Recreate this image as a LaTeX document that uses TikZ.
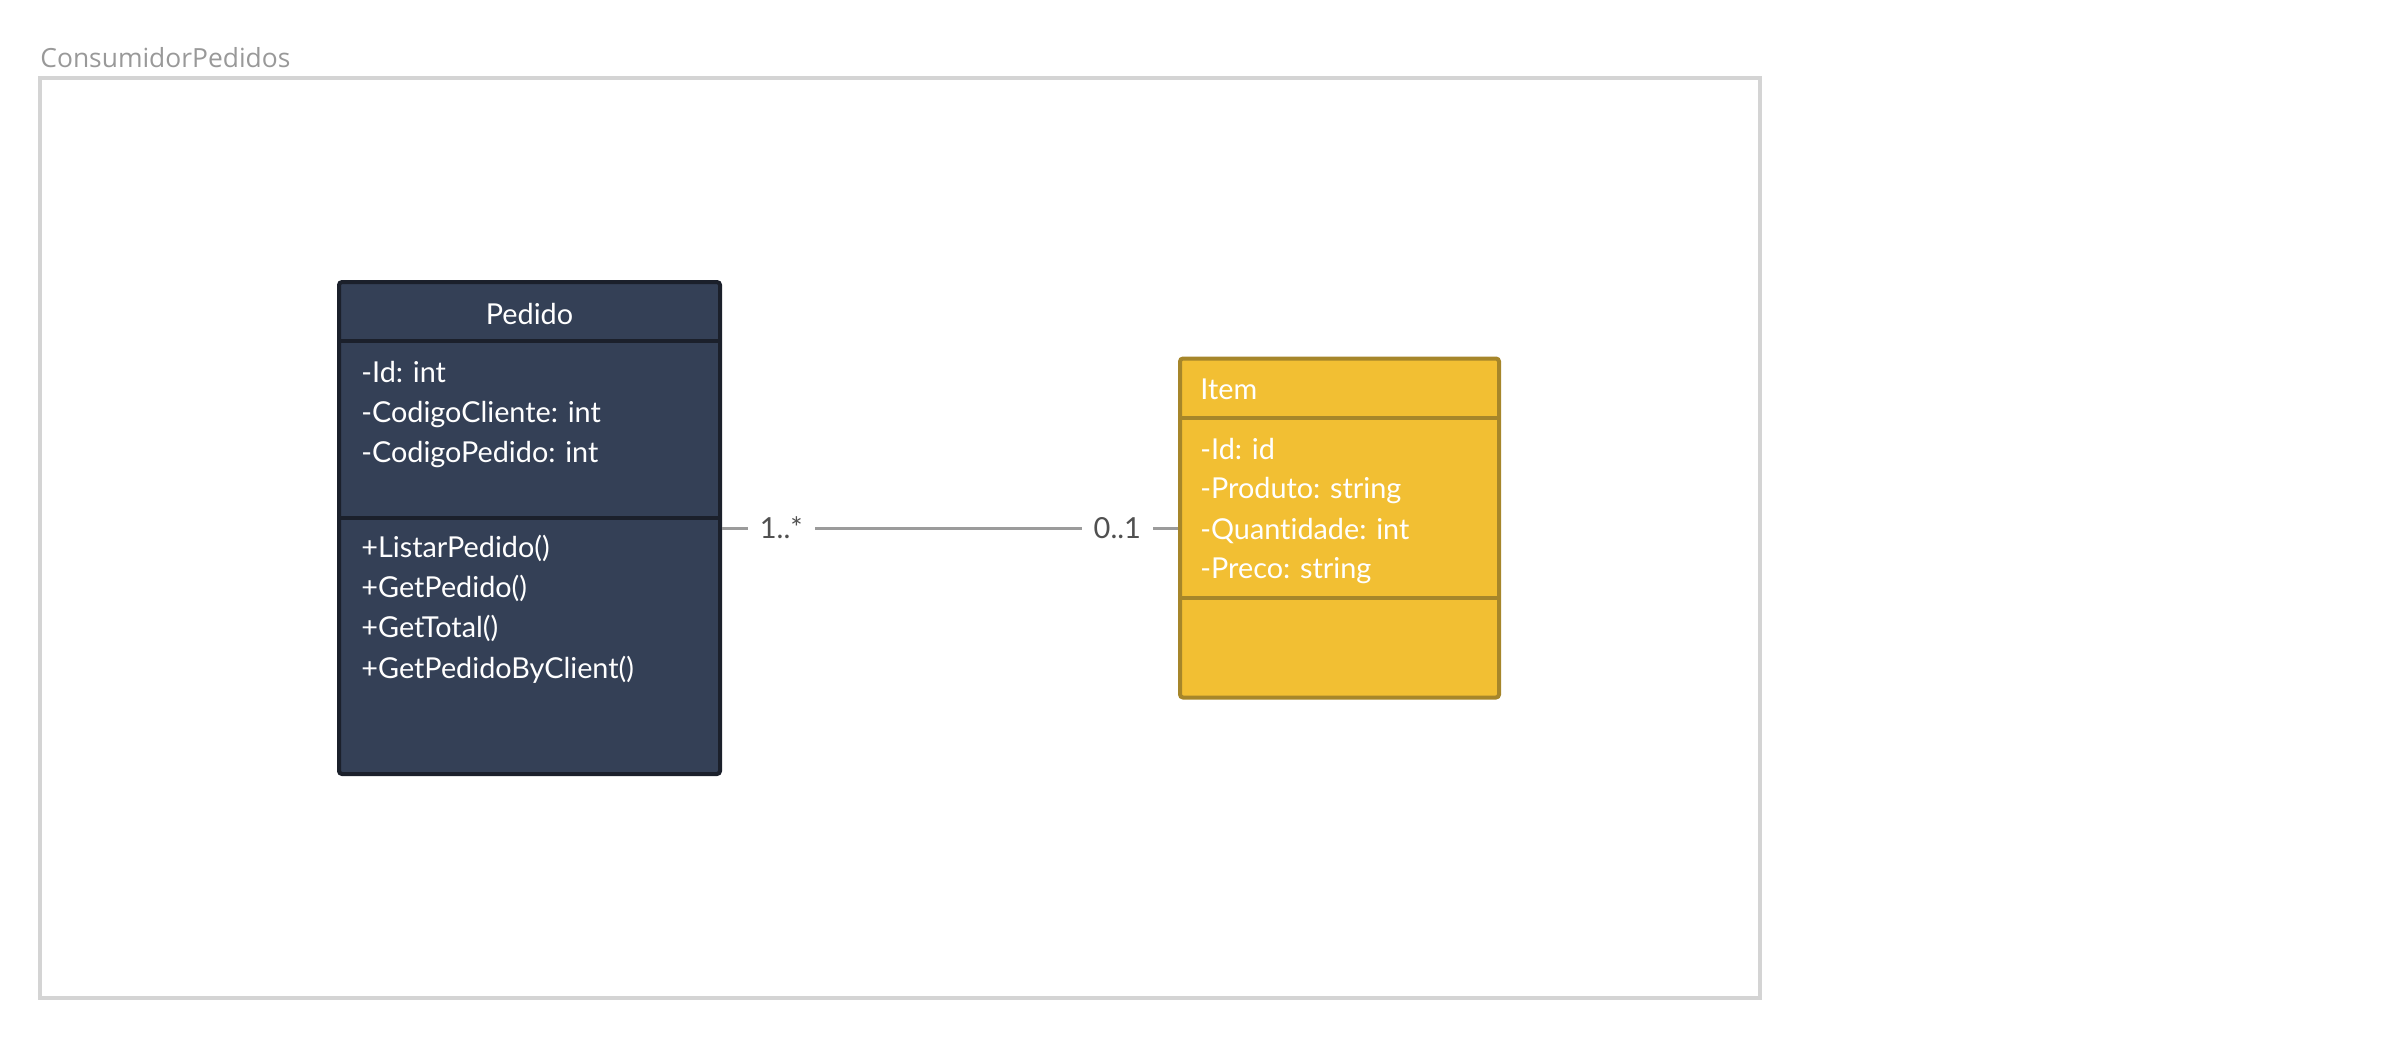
\documentclass[tikz,border=0pt]{standalone}
\usepackage{fontspec}
\setmainfont{Lato}[Ligatures={NoCommon,NoContextual}]
\newfontfamily\pkgfont{Open Sans}
\definecolor{pedidofill}{HTML}{344056}
\definecolor{pedidoline}{HTML}{1B202B}
\definecolor{itemfill}{HTML}{F2BF33}
\definecolor{itemline}{HTML}{A6862A}
\definecolor{linkgray}{HTML}{9B9B9B}
\definecolor{multgray}{HTML}{505050}
\definecolor{framegray}{HTML}{D4D4D4}
\definecolor{labelgray}{HTML}{999999}
\begin{document}
\begin{tikzpicture}[x=0.5pt,y=-0.5pt,
  classbox/.style={rectangle, rounded corners=1.5pt, line width=2pt, inner sep=0pt, anchor=center},
  ctext/.style={inner sep=0pt, text=white, font=\fontsize{14.4pt}{17pt}\selectfont},
  mult/.style={fill=white, text=multgray, inner xsep=6pt, inner ysep=1pt, font=\fontsize{14.5pt}{17pt}\selectfont},
  link/.style={draw=linkgray, line width=1.5pt},
  divider/.style={line width=2pt}]
% canvas
\useasboundingbox (0,0) rectangle (2398,1039);

% package frame and its name
\node[draw=framegray, line width=1.75pt, rectangle, inner sep=0pt, outer sep=0pt,
      minimum width=860pt, minimum height=460pt, anchor=north west] (pkg) at (40,78) {};
\node[anchor=base west, inner sep=0pt, text=labelgray, font=\pkgfont\fontsize{13.2pt}{15pt}\selectfont]
  (pkgname) at (40,67) {ConsumidorPedidos};

% class Pedido
\node[classbox, draw=pedidoline, fill=pedidofill, minimum width=190.5pt, minimum height=246pt]
  (pedido) at (529.5,528) {};
\draw[divider, pedidoline] (339,341) -- (720,341);
\draw[divider, pedidoline] (339,518) -- (720,518);
\node[ctext, anchor=base] (pedido-name) at (529.5,324) {Pedido};
\node[ctext, anchor=base west] (pedido-a1) at (361,382) {-Id: int};
\node[ctext, anchor=base west] (pedido-a2) at (361,422) {-CodigoCliente: int};
\node[ctext, anchor=base west] (pedido-a3) at (361,462.5) {-CodigoPedido: int};
\node[ctext, anchor=base west] (pedido-m1) at (361,557.5) {+ListarPedido()};
\node[ctext, anchor=base west] (pedido-m2) at (361,597) {+GetPedido()};
\node[ctext, anchor=base west] (pedido-m3) at (361,637) {+GetTotal()};
\node[ctext, anchor=base west] (pedido-m4) at (361,678) {+GetPedidoByClient()};

% class Item
\node[classbox, draw=itemline, fill=itemfill, minimum width=159.5pt, minimum height=169.5pt]
  (item) at (1339.5,528) {};
\draw[divider, itemline] (1180,418) -- (1499,418);
\draw[divider, itemline] (1180,598) -- (1499,598);
\node[ctext, anchor=base west] (item-name) at (1200,399) {Item};
\node[ctext, anchor=base west] (item-a1) at (1200,459) {-Id: id};
\node[ctext, anchor=base west] (item-a2) at (1200,498.5) {-Produto: string};
\node[ctext, anchor=base west] (item-a3) at (1200,539) {-Quantidade: int};
\node[ctext, anchor=base west] (item-a4) at (1200,578.5) {-Preco: string};

% association with multiplicities
\draw[link] (pedido.east) -- node[mult, pos=0.13] (mult-pedido) {1..*}
                             node[mult, pos=0.867] (mult-item) {0..1} (pedido.east -| item.west);
\end{tikzpicture}
\end{document}
